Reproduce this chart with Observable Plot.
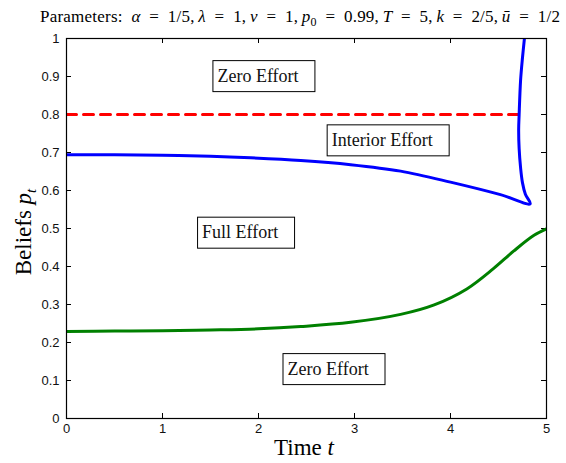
<!DOCTYPE html>
<html>
<head>
<meta charset="utf-8">
<script src="https://cdn.jsdelivr.net/npm/d3@7"></script>
<script src="https://cdn.jsdelivr.net/npm/@observablehq/plot@0.6"></script>
<style>
  body { margin: 0; background: #fff; }
  #chart { position: relative; width: 566px; height: 463px; }
</style>
</head>
<body>
<div id="chart"></div>
<script>
// ---- data ----
const xTicks = [0, 1, 2, 3, 4, 5];
const yTicks = [0, 0.1, 0.2, 0.3, 0.4, 0.5, 0.6, 0.7, 0.8, 0.9, 1];

// upper boundary (blue): decreasing branch then the turn back upward near T
const blueT = [0, 0.5, 1, 1.5, 1.92, 2.44, 2.96, 3.48, 4.0, 4.52, 4.83,
               4.78, 4.75, 4.73, 4.715, 4.71, 4.715, 4.73, 4.75, 4.77];
const blueP = [0.694, 0.694, 0.693, 0.690, 0.686, 0.679, 0.668, 0.651, 0.622, 0.589, 0.565,
               0.590, 0.620, 0.660, 0.710, 0.760, 0.800, 0.890, 0.950, 1.000];

// lower boundary (green)
const greenT = [0, 0.5, 1, 1.5, 2, 2.44, 2.96, 3.48, 3.83, 4.17, 4.45, 4.66, 4.87, 5];
const greenP = [0.229, 0.230, 0.231, 0.233, 0.236, 0.242, 0.253, 0.274, 0.299, 0.341, 0.395, 0.441, 0.482, 0.499];

// threshold (red dashed)
const redT = [0, 4.715];
const redP = [0.8, 0.8];

// region annotations
const labelText = ["Zero Effort", "Interior Effort", "Full Effort", "Zero Effort"];
const labelT = [1.52, 2.71, 1.36, 2.25];
const labelP = [0.901, 0.732, 0.489, 0.130];

// ---- build tables ----
const blue = blueT.map((t, i) => ({t, p: blueP[i]}));
const green = greenT.map((t, i) => ({t, p: greenP[i]}));
const red = redT.map((t, i) => ({t, p: redP[i]}));
const labels = labelText.map((s, i) => ({s, t: labelT[i], p: labelP[i]}));

const W = 566, H = 463, mt = 38, mb = 45, ml = 66, mr = 20;
const fh = H - mt - mb, fw = W - ml - mr, tick = 5;
const serif = "'Liberation Serif', 'Times New Roman', serif";

const plot = Plot.plot({
  width: W, height: H,
  marginTop: mt, marginBottom: mb, marginLeft: ml, marginRight: mr,
  x: {domain: [0, 5], label: null},
  y: {domain: [0, 1], label: null},
  style: {fontFamily: "'Liberation Sans', Arial, sans-serif", fontSize: "13px", color: "#000", background: "#fff", overflow: "visible"},
  marks: [
    Plot.axisX(xTicks, {tickSize: 0, tickPadding: 5, tickFormat: d => String(d), fontSize: 13, fill: "#111"}),
    Plot.axisY(yTicks, {tickSize: 0, tickPadding: 7, tickFormat: d => String(d), fontSize: 13, fill: "#111"}),
    Plot.tickX(xTicks, {x: d => d, insetTop: fh - tick, stroke: "#000"}),
    Plot.tickX(xTicks, {x: d => d, insetBottom: fh - tick, stroke: "#000"}),
    Plot.tickY(yTicks, {y: d => d, insetRight: fw - tick, stroke: "#000"}),
    Plot.tickY(yTicks, {y: d => d, insetLeft: fw - tick, stroke: "#000"}),
    Plot.line(red, {x: "t", y: "p", stroke: "#ff0000", strokeWidth: 3, strokeDasharray: "10,7", clip: true}),
    Plot.line(blue, {x: "t", y: "p", stroke: "#0000ff", strokeWidth: 3, curve: "catmull-rom", strokeLinejoin: "miter", clip: true}),
    Plot.line(green, {x: "t", y: "p", stroke: "#008000", strokeWidth: 3, curve: "catmull-rom", clip: true}),
    Plot.frame({stroke: "#000", strokeWidth: 1.2}),
    Plot.text(labels, {x: "t", y: "p", text: "s", textAnchor: "start", lineAnchor: "middle", dx: 5,
      fontFamily: serif, fontSize: 18, fill: "#111"})
  ]
});

document.getElementById("chart").appendChild(plot);
const svg = d3.select(plot);

// boxes around annotations, sized from the rendered text
svg.selectAll("g[aria-label='text'] text").each(function () {
  const b = this.getBBox();
  const cy = b.y + b.height / 2;
  const tr = this.getAttribute("transform");
  const r = d3.select(this.parentNode).insert("rect", () => this)
    .attr("x", Math.round(b.x - 5) + 0.5)
    .attr("y", Math.round(cy - 15.5) + 0.5)
    .attr("width", Math.round(b.width + 21))
    .attr("height", 31)
    .attr("fill", "#fff")
    .attr("stroke", "#000")
    .attr("stroke-width", 1);
  if (tr) r.attr("transform", tr);
});

// title
const eq = "\u2002=\u2002";
const title = svg.append("text")
  .attr("x", 300).attr("y", 22)
  .attr("text-anchor", "middle")
  .style("font-family", serif).style("font-size", "17px").attr("fill", "#000")
  .attr("textLength", 520).attr("lengthAdjust", "spacing");
const parts = [
  ["Parameters:\u2002", 0], ["α", 1], [eq + "1/5,\u2009", 0], ["λ", 1], [eq + "1,\u2009", 0], ["v", 1], [eq + "1,\u2009", 0],
  ["p", 1], ["0", 2], [eq + "0.99,\u2009", 0], ["T", 1], [eq + "5,\u2009", 0], ["k", 1], [eq + "2/5,\u2009", 0],
  ["u\u0304", 1], [eq + "1/2", 0]
];
let wasSub = false;
parts.forEach(([s, k]) => {
  const ts = title.append("tspan").text(s);
  if (k === 1) ts.style("font-style", "italic");
  if (k === 2) { ts.style("font-size", "12px").attr("dy", 4); wasSub = true; }
  else if (wasSub) { ts.attr("dy", -4); wasSub = false; }
});

// x axis label
const xl = svg.append("text")
  .attr("x", 304).attr("y", 455)
  .attr("text-anchor", "middle")
  .style("font-family", serif).style("font-size", "23px").attr("fill", "#000");
xl.append("tspan").text("Time ");
xl.append("tspan").style("font-style", "italic").text("t");

// y axis label
const yl = svg.append("text")
  .attr("transform", "translate(31,232) rotate(-90)")
  .attr("text-anchor", "middle")
  .style("font-family", serif).style("font-size", "23px").attr("fill", "#000");
yl.append("tspan").text("Beliefs ");
yl.append("tspan").style("font-style", "italic").text("p");
yl.append("tspan").style("font-style", "italic").style("font-size", "15px").attr("dy", 5).text("t");
</script>
</body>
</html>
